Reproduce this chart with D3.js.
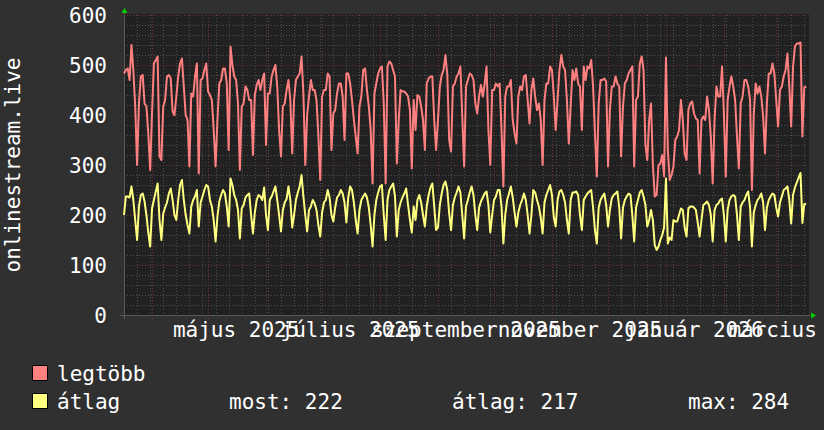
<!DOCTYPE html>
<html><head><meta charset="utf-8">
<script src="https://cdn.jsdelivr.net/npm/d3@7"></script>
<style>html,body{margin:0;padding:0;background:#303030;}svg{display:block;}</style>
</head><body><svg id="c" width="824" height="430"></svg>
<script>
// ---- data ----
const startDate = new Date(2025, 2, 17);
const endDate = new Date(2026, 2, 18);
const maxValues = [
483,490,493,470,540,490,417,300,423,477,
480,423,417,363,290,403,503,510,517,317,
310,417,430,477,480,473,407,400,437,477,
503,513,457,400,390,297,443,437,477,503,
283,470,473,490,503,447,440,430,370,297,
390,463,470,493,493,463,330,537,500,477,
470,423,290,417,423,457,450,430,430,320,
440,460,470,450,470,483,340,443,443,477,
490,500,457,370,317,417,423,450,470,430,
323,430,470,477,483,517,443,300,400,437,
470,450,450,430,360,270,437,450,450,483,
477,330,403,410,443,463,463,437,350,483,
483,463,430,390,357,323,417,437,490,493,
450,417,370,263,443,463,483,493,497,423,
263,497,507,503,490,477,303,390,450,447,
447,443,437,410,293,430,370,440,437,417,
390,330,463,473,477,477,390,330,390,457,
480,490,520,480,350,327,457,463,477,483,
497,397,297,457,470,483,480,470,423,403,
437,460,437,463,497,370,300,450,450,463,
457,463,370,257,437,457,457,470,390,363,
343,437,457,450,477,480,430,383,450,473,
437,410,423,390,300,430,463,463,497,490,
437,370,430,490,520,497,490,430,343,417,
490,470,493,463,457,370,497,470,497,493,
510,457,363,277,423,470,470,473,467,297,
410,457,457,477,463,457,317,417,463,470,
483,490,497,297,430,437,503,517,490,340,
310,390,423,300,237,240,300,303,320,277,
515,330,270,280,297,350,357,370,430,390,
323,310,410,423,427,403,393,390,283,390,
397,390,437,410,357,263,390,457,437,437,
497,403,277,430,457,477,457,430,357,293,
423,437,470,470,457,430,250,403,463,443,
457,437,397,323,423,483,483,503,483,430,
377,450,457,477,490,523,457,377,497,537,
543,543,545,357,455,457];
const avgValues = [
200,237,237,235,257,230,190,150,217,240,
243,227,200,165,137,213,230,247,263,190,
150,203,215,225,243,253,230,200,190,230,
260,270,230,200,180,163,217,230,237,250,
177,225,237,250,260,257,230,217,190,147,
197,227,240,250,243,217,177,273,260,240,
230,210,153,213,220,235,240,243,200,163,
205,230,240,237,230,255,200,170,230,237,
247,257,230,200,167,210,225,232,257,230,
175,200,230,245,257,280,237,200,167,210,
217,230,223,210,180,157,205,225,230,250,
235,200,187,215,235,240,250,243,225,185,
235,257,250,225,190,163,210,230,237,243,
235,215,180,137,200,230,245,257,260,200,
150,230,250,257,263,237,157,210,225,235,
243,253,220,190,165,217,190,230,240,225,
200,177,217,240,255,263,217,170,175,220,
243,260,267,250,203,170,220,235,245,257,
245,200,153,217,230,245,257,240,200,170,
215,227,235,243,247,220,165,200,230,237,
250,250,217,143,200,230,243,257,235,205,
177,205,220,230,243,230,200,163,200,250,
245,230,217,195,163,225,240,250,260,240,
195,177,230,247,250,240,225,190,163,230,
245,245,247,240,200,170,230,237,243,247,
250,215,170,143,215,230,237,243,220,177,
210,233,240,243,247,215,153,215,230,237,
243,240,200,147,215,230,245,250,237,220,
177,190,210,190,140,130,137,150,160,175,
273,143,155,150,190,187,187,200,213,210,
175,157,213,217,217,215,210,185,157,190,
220,223,227,220,200,147,210,220,223,230,
233,200,147,210,230,237,240,237,200,150,
217,225,230,240,247,215,137,205,220,230,
235,243,225,170,215,230,237,243,240,215,
197,225,237,250,253,257,230,183,240,255,
265,275,284,184,222,222];
const yTickValues = [0,100,200,300,400,500,600];
const labelDates = ["2025-05-01","2025-07-01","2025-09-01","2025-11-01","2026-01-01","2026-03-01"];
const labelTexts = ["május 2025","július 2025","szeptember 2025","november 2025","január 2026","március 2026"];
const seriesNames = ["legtöbb","átlag"];
const seriesColors = ["#ff8080","#ffff80"];
const statTexts = ["most: 222","átlag: 217","max: 284"];
const yTitle = "onlinestream.live";

// ---- layout ----
const W = 824, H = 430;
const L = 124, R = 808, T = 15, B = 315;
const FONT = "DejaVu Sans Mono";
const svg = d3.select("#c");
svg.append("rect").attr("width", W).attr("height", H).attr("fill", "#303030");
svg.append("rect").attr("x", L).attr("y", T - 1).attr("width", R - L + 1).attr("height", B - T + 1).attr("fill", "#212121");

const dates = maxValues.map((_, i) => d3.timeDay.offset(startDate, i));
const x = d3.scaleTime().domain([startDate, endDate]).range([L, R]);
const y = d3.scaleLinear().domain([0, 600]).range([B, T]);

// grid
const g = svg.append("g").attr("shape-rendering", "crispEdges");
const minorColor = "#4e4e4e", majorColor = "#6e3434";
const minorY = d3.range(0, 601, 20).filter(v => v % 100 !== 0);
g.selectAll(".hm").data(minorY).join("line")
  .attr("x1", L).attr("x2", R).attr("y1", d => Math.round(y(d)) + 0.5).attr("y2", d => Math.round(y(d)) + 0.5)
  .attr("stroke", minorColor).attr("stroke-dasharray", "1,2");
const weeks = d3.timeMonday.range(startDate, endDate);
g.selectAll(".vm").data(weeks).join("line")
  .attr("x1", d => Math.round(x(d)) + 0.5).attr("x2", d => Math.round(x(d)) + 0.5).attr("y1", T).attr("y2", B + 2)
  .attr("stroke", minorColor).attr("stroke-dasharray", "1,2");
g.selectAll(".hM").data(yTickValues).join("line")
  .attr("x1", L - 3).attr("x2", R).attr("y1", d => Math.round(y(d)) + 0.5).attr("y2", d => Math.round(y(d)) + 0.5)
  .attr("stroke", majorColor).attr("stroke-dasharray", "1,2");
const months = d3.timeMonth.range(startDate, endDate);
g.selectAll(".vM").data(months).join("line")
  .attr("x1", d => Math.round(x(d)) + 0.5).attr("x2", d => Math.round(x(d)) + 0.5).attr("y1", T).attr("y2", B + 4)
  .attr("stroke", majorColor).attr("stroke-dasharray", "1,2");

// axes lines
g.append("line").attr("x1", L - 4).attr("x2", R + 2).attr("y1", B + 0.5).attr("y2", B + 0.5).attr("stroke", "#5a5a5a");
g.append("line").attr("x1", L + 0.5).attr("x2", L + 0.5).attr("y1", T - 4).attr("y2", B + 4).attr("stroke", "#5a5a5a");

// lines
const line = d3.line().x((d, i) => x(dates[i])).y(d => y(d));
[maxValues, avgValues].forEach((vals, k) => {
  svg.append("path").datum(vals).attr("d", line).attr("fill", "none")
    .attr("stroke", seriesColors[k]).attr("stroke-width", 2).attr("stroke-linejoin", "round");
});

// arrows
svg.append("path").attr("d", `M${L - 2.5},${T - 2}L${L + 3.5},${T - 2}L${L + 0.5},${T - 7}Z`).attr("fill", "#00d000");
svg.append("path").attr("d", `M${R + 3},${B - 2.5}L${R + 3},${B + 3.5}L${R + 8},${B + 0.5}Z`).attr("fill", "#00d000");

// y labels
svg.selectAll(".yl").data(yTickValues).join("text")
  .attr("x", 107).attr("y", d => y(d) + 8).attr("text-anchor", "end")
  .attr("font-family", FONT).attr("font-size", 21).attr("fill", "#fff").text(d => d);

// x labels
svg.selectAll(".xl").data(labelDates).join("text")
  .attr("x", d => x(d3.timeDay.offset(new Date(d + "T00:00:00"), 15)))
  .attr("y", 337).attr("text-anchor", "middle")
  .attr("font-family", FONT).attr("font-size", 21).attr("fill", "#fff")
  .text((d, i) => labelTexts[i]);

// y title
svg.append("text").attr("transform", `translate(20,${(T + B) / 2}) rotate(-90)`)
  .attr("text-anchor", "middle").attr("font-family", FONT).attr("font-size", 21).attr("fill", "#fff").text(yTitle);

// legend
const rowY = [381, 409];
seriesNames.forEach((n, k) => {
  svg.append("rect").attr("x", 32.5).attr("y", rowY[k] - 15.5).attr("width", 15).attr("height", 15)
    .attr("fill", seriesColors[k]).attr("stroke", "#000").attr("stroke-width", 1);
  svg.append("text").attr("x", 57).attr("y", rowY[k]).attr("font-family", FONT).attr("font-size", 21)
    .attr("fill", "#fff").text(n);
});
const statX = [229, 452, 688];
statTexts.forEach((t, k) => {
  svg.append("text").attr("x", statX[k]).attr("y", rowY[1]).attr("font-family", FONT).attr("font-size", 21)
    .attr("fill", "#fff").text(t);
});
</script></body></html>
